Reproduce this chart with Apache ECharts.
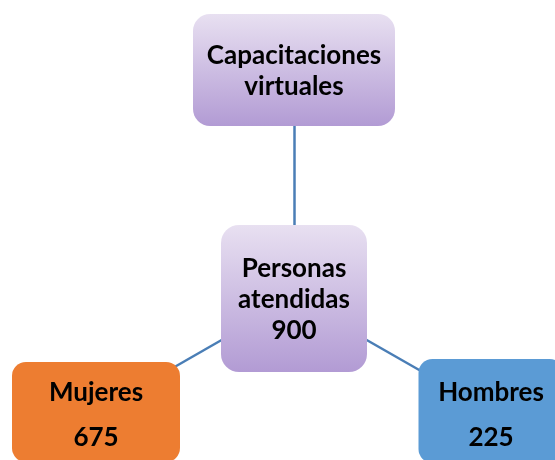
<!DOCTYPE html>
<html>
<head>
<meta charset="utf-8">
<script src="https://cdn.jsdelivr.net/npm/echarts@6/dist/echarts.min.js"></script>
<style>
  html, body { margin: 0; padding: 0; background: #fff; }
  #chart { width: 555px; height: 460px; }
</style>
</head>
<body>
<div id="chart"></div>
<script>
// datos del diagrama
const nodeNames = ['Capacitaciones virtuales', 'Personas atendidas', 'Mujeres', 'Hombres'];
const nodeValues = [null, 900, 675, 225];
const nodeLinks = [[0, 1], [1, 2], [1, 3]];

// caja redondeada como símbolo
function roundRect(w, h, r) {
    return 'path://M' + r + ',0 L' + (w - r) + ',0 A' + r + ',' + r + ' 0 0 1 ' + w + ',' + r +
        ' L' + w + ',' + (h - r) + ' A' + r + ',' + r + ' 0 0 1 ' + (w - r) + ',' + h +
        ' L' + r + ',' + h + ' A' + r + ',' + r + ' 0 0 1 0,' + (h - r) +
        ' L0,' + r + ' A' + r + ',' + r + ' 0 0 1 ' + r + ',0 Z';
}

const purple = {
    type: 'linear', x: 0, y: 0, x2: 0, y2: 1,
    colorStops: [{offset: 0, color: '#e8e0f1'}, {offset: 1, color: '#b29bd4'}]
};

// posición y tamaño de cada caja (centro x, centro y, ancho, alto, radio)
const boxes = [
    [294, 70, 202, 112, 17],
    [294, 298.5, 146, 147, 18],
    [96, 412, 168, 100, 14],
    [491, 411, 145, 104, 14]
];
const fills = [purple, purple, '#ed7d31', '#5b9bd5'];
const lineHeights = [31, 31, 45, 45];
const textShift = [1, 1, 3, 4];

function labelText(i) {
    let words = nodeNames[i].split(' ');
    let txt = words.join('\n');
    if (nodeValues[i] !== null) txt += '\n' + nodeValues[i];
    return txt;
}

let nodes = nodeNames.map(function (name, i) {
    let b = boxes[i];
    return {
        name: name,
        value: [b[0], b[1]],
        symbol: roundRect(b[2], b[3], b[4]),
        symbolSize: [b[2], b[3]],
        itemStyle: {color: fills[i]},
        label: {
            show: true,
            formatter: labelText(i),
            lineHeight: lineHeights[i],
            offset: [0, textShift[i]]
        }
    };
});

let links = nodeLinks.map(function (l) {
    return {source: nodeNames[l[0]], target: nodeNames[l[1]]};
});

let chart = echarts.init(document.getElementById('chart'));
chart.setOption({
    animation: false,
    grid: {left: 0, right: 0, top: 0, bottom: 0},
    xAxis: {type: 'value', min: 0, max: 555, show: false},
    yAxis: {type: 'value', min: 0, max: 460, inverse: true, show: false},
    series: [{
        type: 'graph',
        coordinateSystem: 'cartesian2d',
        layout: 'none',
        data: nodes,
        links: links,
        lineStyle: {color: '#4a7eb6', width: 2.5, opacity: 1},
        label: {
            position: 'inside',
            color: '#000',
            fontFamily: 'Lato',
            fontWeight: 'bold',
            fontSize: 26,
            align: 'center'
        },
        emphasis: {disabled: true}
    }]
});
</script>
</body>
</html>
